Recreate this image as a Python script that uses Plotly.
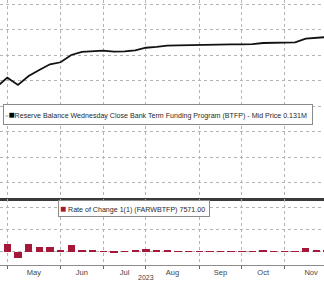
import plotly.graph_objects as go

# ---- data (weekly, Wednesdays) ----
weeks = ["2023-04-26", "2023-05-03", "2023-05-10", "2023-05-17", "2023-05-24", "2023-05-31",
         "2023-06-07", "2023-06-14", "2023-06-21", "2023-06-28", "2023-07-05", "2023-07-12",
         "2023-07-19", "2023-07-26", "2023-08-02", "2023-08-09", "2023-08-16", "2023-08-23",
         "2023-08-30", "2023-09-06", "2023-09-13", "2023-09-20", "2023-09-27", "2023-10-04",
         "2023-10-11", "2023-10-18", "2023-10-25", "2023-11-01", "2023-11-08", "2023-11-15",
         "2023-11-22", "2023-11-29"]
# BTFP balance, $bn
btfp = [74.9, 82.2, 76.5, 83.5, 88.2, 92.7, 94.3, 100.0, 102.4, 103.1, 103.4, 102.6,
        102.8, 103.7, 105.7, 106.3, 107.3, 107.6, 107.8, 107.9, 108.4, 108.4, 108.3, 108.3,
        108.5, 109.4, 109.6, 109.8, 109.9, 112.8, 113.3, 114.1]
# weekly change, $bn
roc = [2.0, 7.0, -5.5, 6.8, 3.9, 4.5, 1.5, 6.0, 1.5, 0.8, 0.3, -0.5,
       0.2, 0.6, 2.3, 0.8, 1.0, 0.3, 0.2, 0.2, 0.4, 0.1, -0.1, 0.1,
       0.3, 1.5, 0.2, 0.3, 0.3, 3.6, 0.5, 0.8]
month_labels = ["May", "Jun", "Jul", "Aug", "Sep", "Oct", "Nov"]
month_first = ["2023-05-03", "2023-06-07", "2023-07-05", "2023-08-02", "2023-09-06",
               "2023-10-04", "2023-11-01", "2023-12-06"]
year_label = "2023"
legend_top = "Reserve Balance Wednesday Close Bank Term Funding Program (BTFP) - Mid Price 0.131M"
legend_bot = "Rate of Change 1(1) (FARWBTFP) 7571.00"

# index-based x positions (Bloomberg style: equal spacing per observation)
x = [i - 1 for i in range(len(weeks))]
def pos(d):
    from datetime import date
    a = date.fromisoformat(weeks[1]); b = date.fromisoformat(d)
    return (b - a).days / 7
bounds = [pos(d) for d in month_first]
mids = [(bounds[k] + bounds[k + 1]) / 2 for k in range(len(month_labels))]

W, H = 324, 282
FONT = "Liberation Sans, Arial, sans-serif"
RED = "#a5183a"
GRID = "#b4b4b4"

fig = go.Figure()
fig.add_trace(go.Scatter(x=x, y=btfp, mode="lines", line=dict(color="#111111", width=1.8),
                         xaxis="x", yaxis="y", showlegend=False, hoverinfo="skip"))
fig.add_trace(go.Bar(x=x, y=roc, marker=dict(color=RED, line=dict(width=0)), width=0.69,
                     xaxis="x2", yaxis="y2", showlegend=False, hoverinfo="skip"))

xr = [-7.3 / 10.66, (W - 7.3) / 10.66]
def ppx(y):  # paper fraction from pixel
    return 1 - y / H

top_v = lambda y: 80 + (80.5 - y) * 20 / 25.5
bot_v = lambda y: (251.5 - y) / 1.0925

fig.update_layout(
    width=W, height=H, margin=dict(l=0, r=0, t=0, b=0),
    paper_bgcolor="white", plot_bgcolor="white",
    font=dict(family=FONT, size=7, color="#333333"),
    bargap=0,
    xaxis=dict(domain=[0, 1], range=xr, anchor="y", tickmode="array", tickvals=bounds[:-1],
               showticklabels=False, ticks="", showgrid=True, gridcolor=GRID, griddash="dot",
               gridwidth=1, zeroline=False, showline=True, linecolor="#3a3a3a", linewidth=3),
    yaxis=dict(domain=[ppx(197.5), 1], range=[top_v(197.5), top_v(0)], tickmode="linear",
               tick0=0, dtick=20, showticklabels=False, ticks="", showgrid=True,
               gridcolor=GRID, griddash="dot", gridwidth=1, zeroline=False),
    xaxis2=dict(domain=[0, 1], range=xr, anchor="y2", tickmode="array", tickvals=mids,
                ticktext=month_labels, ticks="", showgrid=False, zeroline=False,
                tickfont=dict(size=7.5, color="#444444"),
                showline=True, linecolor="#8c8c8c", linewidth=1,
                minor=dict(tickmode="array", tickvals=bounds[:-1], showgrid=True,
                           gridcolor=GRID, griddash="dot", gridwidth=1, ticks="outside",
                           ticklen=3, tickcolor="#666666", tickwidth=1)),
    yaxis2=dict(domain=[ppx(265), ppx(199)], range=[bot_v(265), bot_v(199)],
                tickmode="linear", tick0=0, dtick=20, showticklabels=False, ticks="",
                showgrid=True, gridcolor=GRID, griddash="dot", gridwidth=1, zeroline=False),
    annotations=[
        dict(xref="paper", yref="paper", x=2.5 / W, y=ppx(104), xanchor="left", yanchor="top",
             width=306, height=17, align="left", valign="middle", showarrow=False,
             bgcolor="white", bordercolor="#8a8a8a", borderwidth=1, borderpad=1,
             text="<span style='color:#aaaaaa;font-size:6px'>=</span>"
                  "<span style='color:#000000;font-size:10px'>■</span>"
                  + legend_top,
             font=dict(size=7.1, color="#2a2a2a", family=FONT)),
        dict(xref="paper", yref="paper", x=58 / W, y=ppx(200), xanchor="left", yanchor="top",
             width=148, height=13, align="left", valign="middle", showarrow=False,
             bgcolor="white", bordercolor="#8a8a8a", borderwidth=1, borderpad=1,
             text="<span style='color:" + RED + ";font-size:10px'>■</span> " + legend_bot,
             font=dict(size=7.1, color="#2a2a2a", family=FONT)),
        dict(xref="x2", yref="paper", x=pos("2023-08-02"), y=ppx(277.5), xanchor="center",
             yanchor="middle", showarrow=False, text=year_label,
             font=dict(size=7, color="#444444", family=FONT)),
    ],
)

fig.write_html("out.html")
